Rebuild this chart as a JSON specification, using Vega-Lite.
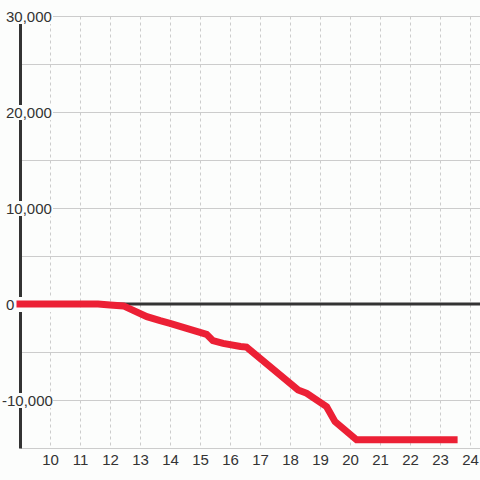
{
  "$schema": "https://vega.github.io/schema/vega-lite/v6.json",
  "width": 460,
  "height": 432,
  "autosize": {"type": "none"},
  "padding": {"left": 20, "top": 16, "right": 0, "bottom": 32},
  "background": "#fcfdfc",
  "config": {
    "view": {"stroke": null},
    "font": "Liberation Sans",
    "axis": {"labelOverlap": false, "labelFlush": false, "labelBound": false}
  },
  "datasets": {
    "labels": [
      {"v": 30000, "label": "30,000"},
      {"v": 20000, "label": "20,000"},
      {"v": 10000, "label": "10,000"},
      {"v": 0, "label": "0"},
      {"v": -10000, "label": "-10,000"}
    ],
    "series": [
      {"t": 9.0, "v": 0},
      {"t": 11.6, "v": 0},
      {"t": 12.0, "v": -100},
      {"t": 12.45, "v": -200},
      {"t": 13.23, "v": -1320},
      {"t": 13.67, "v": -1740},
      {"t": 14.0, "v": -2010},
      {"t": 15.22, "v": -3160},
      {"t": 15.43, "v": -3820},
      {"t": 15.77, "v": -4100},
      {"t": 16.35, "v": -4420},
      {"t": 16.55, "v": -4480},
      {"t": 18.27, "v": -8960},
      {"t": 18.56, "v": -9300},
      {"t": 19.22, "v": -10700},
      {"t": 19.5, "v": -12250},
      {"t": 20.22, "v": -14150},
      {"t": 23.47, "v": -14150}
    ]
  },
  "layer": [
    {
      "data": {"name": "labels"},
      "mark": {"type": "point", "shape": "M-17,-7H33V8H-17Z", "size": 4, "filled": true, "fill": "#fcfdfc", "opacity": 1, "strokeWidth": 0},
      "encoding": {
        "x": {"datum": 9, "type": "quantitative"},
        "y": {"field": "v", "type": "quantitative"}
      }
    },
    {
      "data": {"values": [{"v": 0}]},
      "mark": {"type": "rule", "color": "#333333", "strokeWidth": 3},
      "encoding": {"y": {"field": "v", "type": "quantitative"}}
    },
    {
      "data": {"name": "series"},
      "mark": {"type": "line", "color": "#ec2035", "strokeWidth": 7, "strokeCap": "square", "strokeJoin": "miter"},
      "encoding": {
        "x": {
          "field": "t",
          "type": "quantitative",
          "scale": {"domain": [9, 24.3333], "nice": false, "zero": false},
          "axis": {
            "title": null,
            "values": [10, 11, 12, 13, 14, 15, 16, 17, 18, 19, 20, 21, 22, 23, 24],
            "tickCount": 16,
            "format": "d",
            "domain": false,
            "ticks": false,
            "grid": true,
            "gridColor": "#cccccc",
            "gridDash": [3, 3],
            "gridWidth": 1,
            "labelFont": "Liberation Sans",
            "labelFontSize": 15,
            "labelColor": "#333333",
            "labelPadding": 4,
            "labelOverlap": false,
            "labelFlush": false,
            "labelSeparation": 0
          }
        },
        "y": {
          "field": "v",
          "type": "quantitative",
          "scale": {"domain": [-15000, 30000], "nice": false, "zero": false},
          "axis": {
            "title": null,
            "values": [-15000, -10000, -5000, 0, 5000, 10000, 15000, 20000, 25000, 30000],
            "labels": false,
            "ticks": false,
            "domain": true,
            "domainColor": "#333333",
            "domainWidth": 3,
            "grid": true,
            "gridColor": "#cccccc",
            "gridWidth": 1
          }
        }
      }
    },
    {
      "data": {"name": "labels"},
      "transform": [{"filter": "datum.v >= 0"}],
      "mark": {"type": "text", "align": "left", "baseline": "middle", "dx": -14, "dy": 1, "fontSize": 15, "color": "#333333", "font": "Liberation Sans"},
      "encoding": {
        "x": {"datum": 9, "type": "quantitative"},
        "y": {"field": "v", "type": "quantitative"},
        "text": {"field": "label"}
      }
    },
    {
      "data": {"name": "labels"},
      "transform": [{"filter": "datum.v < 0"}],
      "mark": {"type": "text", "align": "left", "baseline": "middle", "dx": -18, "dy": 1, "fontSize": 15, "color": "#333333", "font": "Liberation Sans"},
      "encoding": {
        "x": {"datum": 9, "type": "quantitative"},
        "y": {"field": "v", "type": "quantitative"},
        "text": {"field": "label"}
      }
    }
  ]
}
